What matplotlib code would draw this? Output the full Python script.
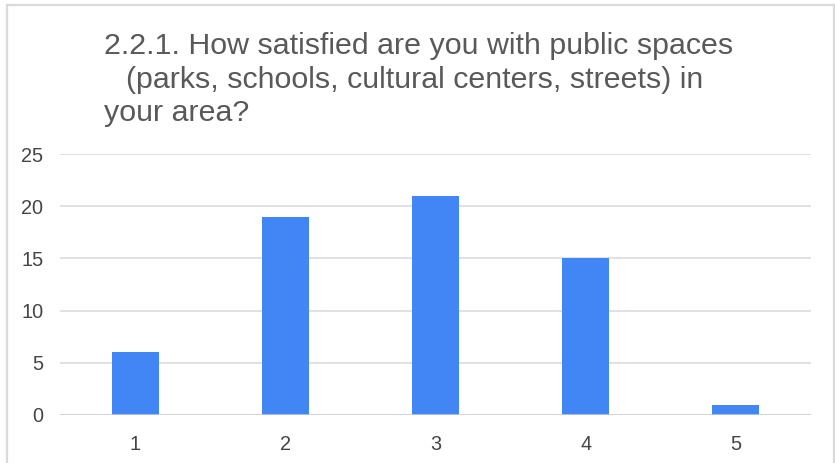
import matplotlib.pyplot as plt

# Survey responses: satisfaction rating (1-5) and number of respondents
ratings = ["1", "2", "3", "4", "5"]
counts = [6, 19, 21, 15, 1]
y_ticks = [0, 5, 10, 15, 20, 25]
title_lines = [
    "2.2.1. How satisfied are you with public spaces",
    "(parks, schools, cultural centers, streets) in",
    "your area?",
]
title_x = [104, 126, 104]

plt.rcParams["font.family"] = ["Liberation Sans", "DejaVu Sans"]

W, H = 835, 463
fig = plt.figure(figsize=(W / 100, H / 100), dpi=100)

# light frame around the chart (no bottom edge)
frame_color = "#dadada"
fig.add_artist(plt.Line2D([7 / W, 7 / W], [0, 1 - 5 / H], transform=fig.transFigure,
                          color=frame_color, lw=1.6))
fig.add_artist(plt.Line2D([7 / W, 833.5 / W], [1 - 5 / H, 1 - 5 / H], transform=fig.transFigure,
                          color=frame_color, lw=1.6))
fig.add_artist(plt.Line2D([833.5 / W, 833.5 / W], [0, 1 - 5 / H], transform=fig.transFigure,
                          color=frame_color, lw=1.6))

left, right = 60, 811
bottom, top = 415, 154
ax = fig.add_axes([left / W, (H - bottom) / H, (right - left) / W, (bottom - top) / H])

x = range(len(ratings))
ax.bar(x, counts, width=0.313, color="#4285F4", zorder=3)

ax.set_xlim(-0.5, len(ratings) - 0.5)
ax.set_ylim(0, 25)
ax.set_yticks(y_ticks)
ax.set_xticks(list(x))
ax.set_xticklabels(ratings)

for s in ax.spines.values():
    s.set_visible(False)
ax.grid(axis="y", color="#d9d9d9", lw=1.1, zorder=0)
ax.axhline(0, color="#cfcfcf", lw=1.8, zorder=4)
ax.tick_params(axis="both", length=0, labelsize=14.3, labelcolor="#444444")
ax.tick_params(axis="y", pad=12)
ax.tick_params(axis="x", pad=14.5)

# title, drawn line by line
for i, (line, tx) in enumerate(zip(title_lines, title_x)):
    fig.text(tx / W, 1 - (54 + 33.5 * i) / H, line, ha="left", va="baseline",
             fontsize=21.9, color="#595959")

fig.savefig("out.png", dpi=100, facecolor="white")
